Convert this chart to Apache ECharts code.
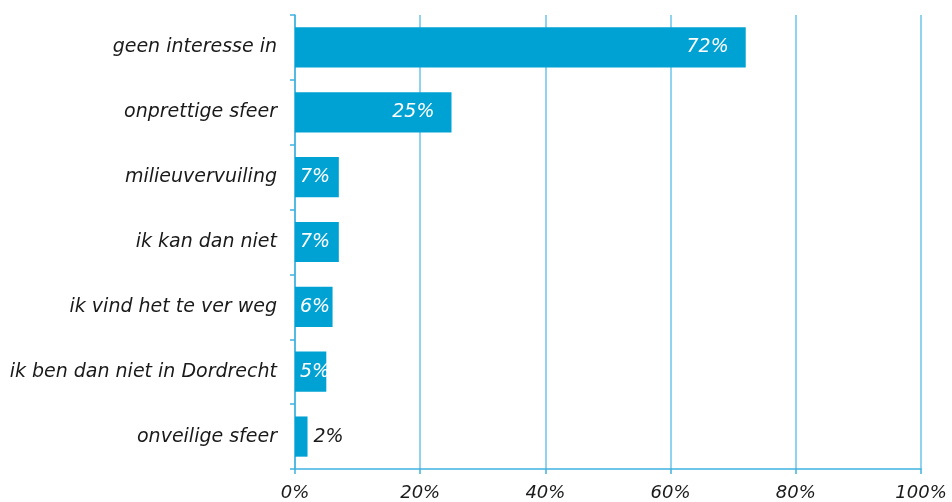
<!DOCTYPE html>
<html>
<head>
<meta charset="utf-8">
<script src="https://cdn.jsdelivr.net/npm/echarts@6/dist/echarts.min.js"></script>
<style>html,body{margin:0;padding:0;background:#fff}#c{width:952px;height:502px}</style>
</head>
<body>
<div id="c"></div>
<script>
var categories = ['geen interesse in', 'onprettige sfeer', 'milieuvervuiling', 'ik kan dan niet', 'ik vind het te ver weg', 'ik ben dan niet in Dordrecht', 'onveilige sfeer'];
var values = [72, 25, 7, 7, 6, 5, 2];
var xTicks = [0, 20, 40, 60, 80, 100];

var font = 'DejaVu Sans, Verdana, sans-serif';
var data = values.map(function (v) {
  var label;
  if (v >= 20) {
    label = { position: 'insideRight', distance: 17, color: '#fff' };
  } else if (v >= 4) {
    label = { position: 'insideLeft', distance: 5, color: '#fff' };
  } else {
    label = { position: 'right', distance: 6, color: '#1a1a1a' };
  }
  return { value: v, label: label };
});

var chart = echarts.init(document.getElementById('c'));
chart.setOption({
  animation: false,
  grid: { left: 295, right: 31, top: 15, bottom: 33, containLabel: false },
  xAxis: {
    type: 'value', min: 0, max: 100, interval: 20,
    axisLine: { show: true, lineStyle: { color: '#3fb3df', width: 1.5 } },
    axisTick: { show: true, length: 5, lineStyle: { color: '#3fb3df', width: 1.5 } },
    splitLine: { show: true, lineStyle: { color: '#6cc5e8', width: 1.5 } },
    axisLabel: {
      margin: 15, color: '#1a1a1a', fontFamily: font, fontStyle: 'italic', fontSize: 18,
      formatter: function (v) { return xTicks.indexOf(v) >= 0 ? v + '%' : ''; }
    }
  },
  yAxis: {
    type: 'category', data: categories, inverse: true,
    axisLine: { show: true, lineStyle: { color: '#3fb3df', width: 1.5 } },
    axisTick: { show: true, length: 5, lineStyle: { color: '#3fb3df', width: 1.5 } },
    axisLabel: { margin: 18, color: '#1a1a1a', fontFamily: font, fontStyle: 'italic', fontSize: 19 }
  },
  series: [{
    type: 'bar', data: data, barCategoryGap: '38%',
    itemStyle: { color: '#00a2d3' },
    label: {
      show: true, fontFamily: font, fontStyle: 'italic', fontSize: 19,
      formatter: function (p) { return p.value + '%'; }
    }
  }]
});
</script>
</body>
</html>
